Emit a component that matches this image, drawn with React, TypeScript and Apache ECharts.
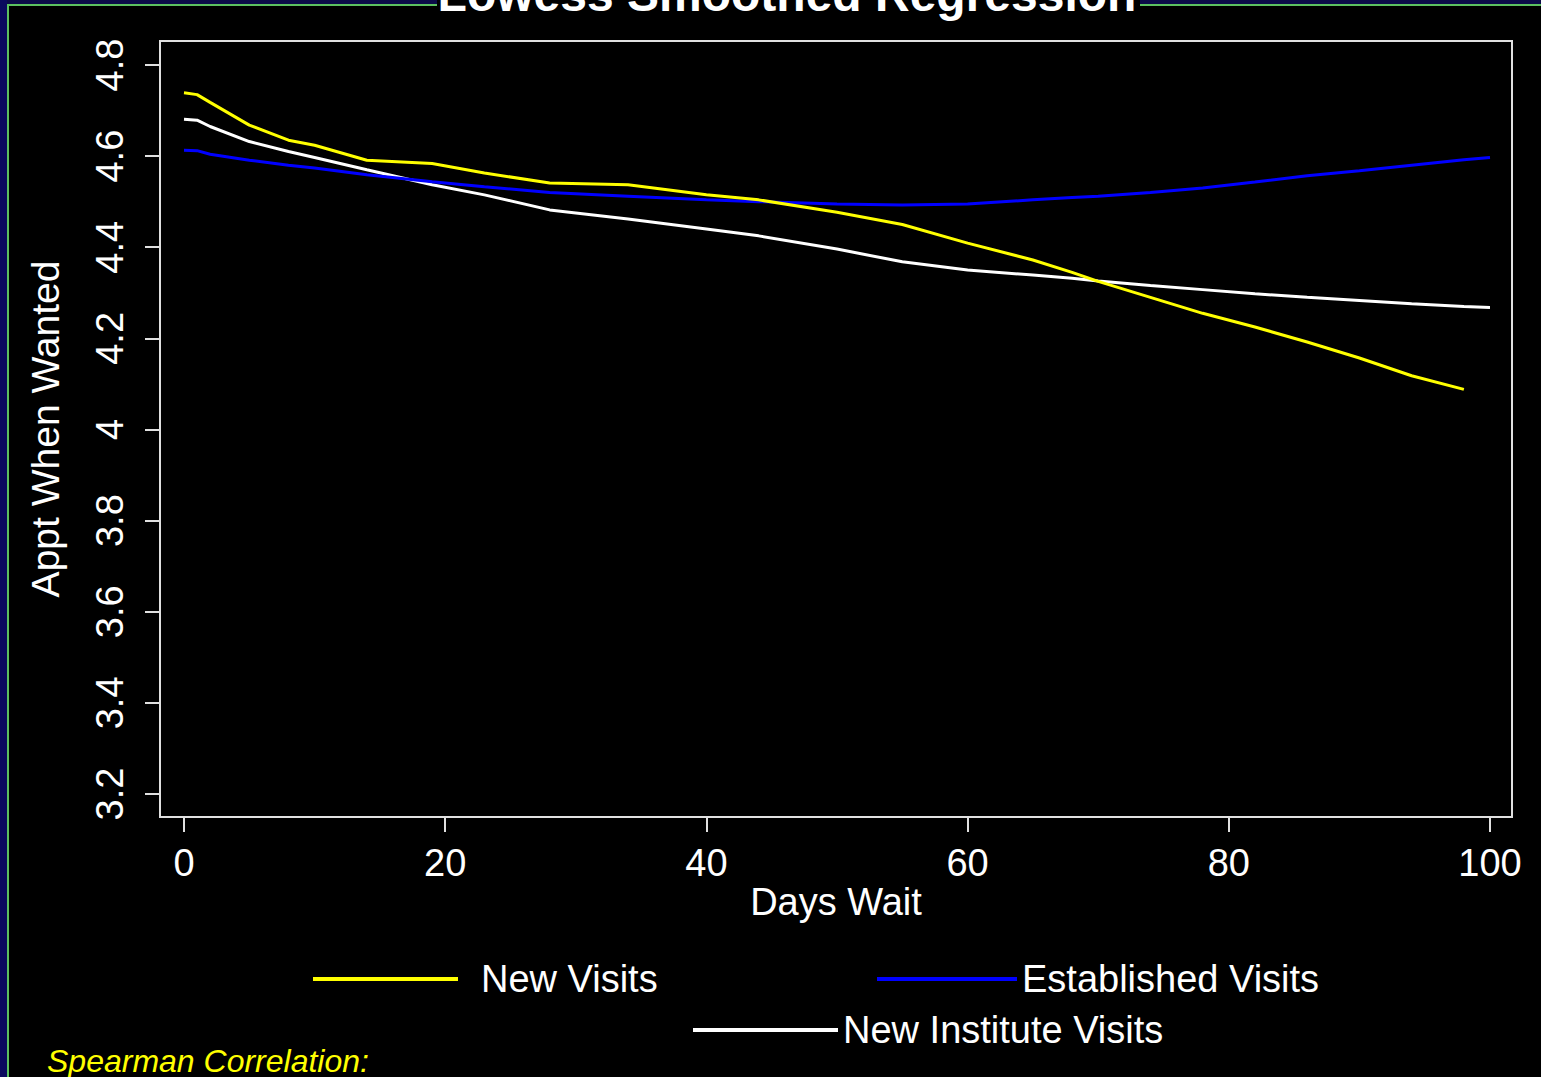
import React, { useEffect, useRef } from "react";
import * as echarts from "echarts";

const daysWait = [0, 1, 2, 5, 8, 10, 14, 19, 23, 28, 34, 40, 44, 50, 55, 60, 65, 68, 70, 74, 78, 82, 86, 90, 94, 98, 100];
const newVisits = [4.739, 4.735, 4.718, 4.668, 4.635, 4.624, 4.591, 4.584, 4.563, 4.541, 4.537, 4.515, 4.504, 4.477, 4.45, 4.409, 4.372, 4.345, 4.325, 4.29, 4.255, 4.225, 4.192, 4.157, 4.118, 4.088, null];
const establishedVisits = [4.613, 4.612, 4.604, 4.591, 4.58, 4.574, 4.559, 4.544, 4.533, 4.52, 4.512, 4.504, 4.5, 4.495, 4.493, 4.495, 4.504, 4.509, 4.512, 4.52, 4.53, 4.543, 4.557, 4.568, 4.58, 4.592, 4.597];
const newInstituteVisits = [4.681, 4.679, 4.665, 4.632, 4.61, 4.597, 4.57, 4.537, 4.515, 4.482, 4.462, 4.44, 4.425, 4.396, 4.368, 4.35, 4.339, 4.332, 4.326, 4.316, 4.307, 4.298, 4.29, 4.283, 4.276, 4.27, 4.268];

const seriesNames = ["New Visits", "Established Visits", "New Institute Visits"];
const seriesColors = ["#ffff00", "#0000ff", "#ffffff"];
const xTitle = "Days Wait";
const yTitle = "Appt When Wanted";
const chartTitle = "Lowess Smoothed Regression";
const footnote = "Spearman Correlation:";

const FONT = "'Liberation Sans', Arial, sans-serif";

function pairs(vals: (number | null)[]) {
  const out: [number, number][] = [];
  vals.forEach((v, i) => {
    if (v !== null) out.push([daysWait[i], v]);
  });
  return out;
}

export default function App() {
  const ref = useRef<HTMLDivElement>(null);
  useEffect(() => {
    if (!ref.current) return;
    const chart = echarts.init(ref.current, undefined, { renderer: "svg" });
    const allData = [newVisits, establishedVisits, newInstituteVisits];
    const legendCommon = {
      icon: "rect",
      itemWidth: 145,
      itemHeight: 4,
      itemGap: 0,
      padding: 0,
      selectedMode: false,
      textStyle: { color: "#ffffff", fontSize: 38, fontFamily: FONT },
    };
    chart.setOption({
      animation: false,
      backgroundColor: "#000000",
      grid: { left: 184, right: 51, top: 65, bottom: 283, containLabel: false },
      xAxis: {
        type: "value",
        min: 0,
        max: 100,
        interval: 20,
        offset: 23,
        axisLine: { show: true, onZero: false, lineStyle: { color: "#e0e0e0", width: 2 } },
        axisTick: { show: true, length: 15, lineStyle: { color: "#e0e0e0", width: 2 } },
        axisLabel: { color: "#ffffff", fontSize: 38, fontFamily: FONT, margin: 27 },
        splitLine: { show: false },
      },
      yAxis: {
        type: "value",
        min: 3.2,
        max: 4.8,
        interval: 0.2,
        offset: 24,
        axisLine: { show: true, onZero: false, lineStyle: { color: "#e0e0e0", width: 2 } },
        axisTick: { show: true, length: 15, lineStyle: { color: "#e0e0e0", width: 2 } },
        axisLabel: {
          color: "#ffffff",
          fontSize: 38,
          fontFamily: FONT,
          rotate: 90,
          margin: 31,
          formatter: (v: number) => String(Number(v.toFixed(1))),
        },
        splitLine: { show: false },
      },
      legend: [
        { ...legendCommon, data: [seriesNames[0]], left: 313, top: 960, textStyle: { ...legendCommon.textStyle, padding: [0, 0, 0, 18] } },
        { ...legendCommon, data: [seriesNames[1]], left: 877, top: 960, itemWidth: 140 },
        { ...legendCommon, data: [seriesNames[2]], left: 693, top: 1011 },
      ],
      series: seriesNames.map((name, i) => ({
        name,
        type: "line",
        data: pairs(allData[i]),
        showSymbol: false,
        symbol: "none",
        lineStyle: { color: seriesColors[i], width: 3 },
        itemStyle: { color: seriesColors[i] },
        z: 3 - i,
      })),
      graphic: [
        { type: "rect", shape: { x: 0, y: 0, width: 1541, height: 4 }, style: { fill: "#0b0b48" }, z: 100 },
        { type: "rect", shape: { x: 0, y: 0, width: 7, height: 1077 }, style: { fill: "#0a0a5e" }, z: 100 },
        { type: "rect", shape: { x: 7, y: 4, width: 1534, height: 2 }, style: { fill: "#5cc060" }, z: 101 },
        { type: "rect", shape: { x: 7, y: 4, width: 2, height: 1073 }, style: { fill: "#5cc060" }, z: 101 },
        { type: "rect", shape: { x: 437, y: 0, width: 703, height: 12 }, style: { fill: "#000000" }, z: 102 },
        {
          type: "text",
          x: 787,
          y: -6,
          z: 103,
          style: {
            text: chartTitle,
            fill: "#ffffff",
            font: `bold 48px ${FONT}`,
            align: "center",
            verticalAlign: "middle",
          },
        },
        {
          type: "rect",
          shape: { x: 160, y: 41, width: 1352, height: 776 },
          style: { fill: "none", stroke: "#e0e0e0", lineWidth: 2 },
          z: 50,
        },
        {
          type: "text",
          x: 836,
          y: 902,
          style: { text: xTitle, fill: "#ffffff", font: `38px ${FONT}`, align: "center", verticalAlign: "middle" },
        },
        {
          type: "text",
          x: 45,
          y: 429,
          rotation: Math.PI / 2,
          style: { text: yTitle, fill: "#ffffff", font: `39px ${FONT}`, align: "center", verticalAlign: "middle" },
        },
        {
          type: "text",
          x: 47,
          y: 1061,
          style: { text: footnote, fill: "#ffff00", font: `italic 32px ${FONT}`, align: "left", verticalAlign: "middle" },
        },
      ],
    });
    return () => chart.dispose();
  }, []);
  return <div ref={ref} style={{ position: "fixed", left: 0, top: 0, width: 1541, height: 1077 }} />;
}
